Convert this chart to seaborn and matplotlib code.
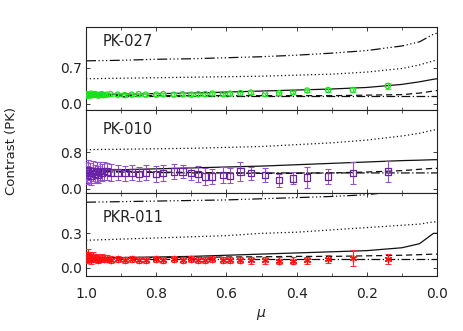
import numpy as np
import pandas as pd
import matplotlib
matplotlib.use("Agg")
import matplotlib.pyplot as plt
import seaborn as sns
from matplotlib.ticker import MultipleLocator, FixedLocator

# ---------------- data ----------------
mu_obs = [1.000, 0.998, 0.995, 0.990, 0.985, 0.980, 0.975, 0.970, 0.965, 0.960,
          0.955, 0.950, 0.940, 0.930, 0.910, 0.890, 0.870, 0.850, 0.830, 0.800,
          0.780, 0.750, 0.725, 0.700, 0.680, 0.660, 0.640, 0.610, 0.590, 0.560,
          0.530, 0.490, 0.450, 0.410, 0.370, 0.310, 0.240, 0.140]

pk027_val = [0.17, 0.19, 0.16, 0.18, 0.20, 0.17, 0.19, 0.18, 0.16, 0.18,
             0.19, 0.17, 0.18, 0.19, 0.18, 0.17, 0.18, 0.19, 0.18, 0.18,
             0.19, 0.18, 0.19, 0.18, 0.19, 0.19, 0.20, 0.19, 0.20, 0.21,
             0.22, 0.19, 0.21, 0.23, 0.26, 0.27, 0.27, 0.35]
pk027_err = [0.04, 0.04, 0.04, 0.04, 0.04, 0.04, 0.04, 0.03, 0.03, 0.03,
             0.03, 0.03, 0.03, 0.03, 0.03, 0.03, 0.03, 0.03, 0.03, 0.03,
             0.03, 0.03, 0.03, 0.03, 0.03, 0.03, 0.03, 0.03, 0.03, 0.03,
             0.03, 0.03, 0.03, 0.03, 0.03, 0.03, 0.03, 0.06]

pk010_val = [0.38, 0.30, 0.42, 0.35, 0.28, 0.40, 0.33, 0.37, 0.31, 0.39,
             0.36, 0.40, 0.38, 0.36, 0.36, 0.34, 0.36, 0.33, 0.36, 0.33,
             0.35, 0.38, 0.38, 0.34, 0.33, 0.27, 0.27, 0.30, 0.29, 0.38,
             0.34, 0.31, 0.19, 0.23, 0.25, 0.27, 0.35, 0.38]
pk010_err = [0.22, 0.20, 0.22, 0.21, 0.20, 0.22, 0.20, 0.21, 0.19, 0.20,
             0.19, 0.20, 0.18, 0.18, 0.17, 0.17, 0.17, 0.16, 0.17, 0.18,
             0.17, 0.16, 0.15, 0.15, 0.17, 0.18, 0.17, 0.18, 0.17, 0.20,
             0.15, 0.15, 0.14, 0.13, 0.24, 0.17, 0.25, 0.23]

pkr011_val = [0.10, 0.08, 0.12, 0.09, 0.07, 0.10, 0.08, 0.09, 0.07, 0.08,
              0.09, 0.08, 0.08, 0.07, 0.08, 0.07, 0.08, 0.07, 0.07, 0.075,
              0.07, 0.075, 0.07, 0.08, 0.07, 0.07, 0.075, 0.07, 0.07, 0.07,
              0.068, 0.068, 0.062, 0.062, 0.068, 0.074, 0.083, 0.077]
pkr011_err = [0.04, 0.04, 0.04, 0.035, 0.035, 0.035, 0.03, 0.03, 0.03, 0.03,
              0.03, 0.03, 0.03, 0.03, 0.025, 0.025, 0.025, 0.025, 0.025, 0.025,
              0.025, 0.025, 0.025, 0.025, 0.025, 0.025, 0.025, 0.025, 0.025, 0.025,
              0.03, 0.03, 0.03, 0.03, 0.03, 0.035, 0.07, 0.045]

mu_mod = [1.0, 0.9, 0.8, 0.7, 0.6, 0.5, 0.4, 0.3, 0.2, 0.1, 0.05, 0.01, 0.0]

# PK-027 models
pk027_solid = [0.18, 0.19, 0.20, 0.21, 0.23, 0.25, 0.27, 0.29, 0.32, 0.38, 0.43, 0.48, 0.49]
pk027_dot   = [0.49, 0.50, 0.51, 0.52, 0.53, 0.54, 0.56, 0.58, 0.62, 0.69, 0.76, 0.84, 0.86]
pk027_d3d   = [0.84, 0.85, 0.87, 0.88, 0.90, 0.92, 0.95, 0.99, 1.04, 1.13, 1.21, 1.36, 1.38]
pk027_dash  = [0.16, 0.16, 0.16, 0.16, 0.16, 0.16, 0.16, 0.16, 0.17, 0.18, 0.21, 0.25, 0.26]
pk027_dd    = [0.15, 0.15, 0.15, 0.15, 0.15, 0.15, 0.15, 0.15, 0.15, 0.15, 0.15, 0.15, 0.15]

# PK-010 models
pk010_solid = [0.40, 0.42, 0.44, 0.46, 0.48, 0.50, 0.53, 0.56, 0.59, 0.62, 0.63, 0.64, 0.64]
pk010_dot   = [0.86, 0.87, 0.88, 0.89, 0.91, 0.93, 0.97, 1.01, 1.07, 1.16, 1.22, 1.29, 1.30]
pk010_dash  = [0.40, 0.38, 0.37, 0.36, 0.35, 0.34, 0.34, 0.35, 0.37, 0.40, 0.43, 0.45, 0.45]
pk010_dd    = [0.38, 0.37, 0.36, 0.35, 0.35, 0.35, 0.35, 0.35, 0.35, 0.35, 0.35, 0.35, 0.35]

# PKR-011 models
pkr011_solid = [0.085, 0.09, 0.095, 0.10, 0.11, 0.12, 0.13, 0.14, 0.15, 0.175, 0.21, 0.30, 0.30]
pkr011_dot   = [0.24, 0.25, 0.26, 0.27, 0.28, 0.30, 0.31, 0.33, 0.35, 0.37, 0.38, 0.40, 0.40]
pkr011_d3d   = [0.57, 0.575, 0.58, 0.585, 0.59, 0.60, 0.61, 0.62, 0.635, 0.67, 0.70, 0.78, 0.80]
pkr011_dash  = [0.085, 0.09, 0.09, 0.09, 0.095, 0.097, 0.10, 0.10, 0.105, 0.11, 0.115, 0.12, 0.12]
pkr011_dd    = [0.075, 0.075, 0.075, 0.075, 0.075, 0.075, 0.075, 0.075, 0.075, 0.075, 0.075, 0.075, 0.075]

names = ["PK-027", "PK-010", "PKR-011"]
yticks = [[0.0, 0.7], [0.0, 0.8], [0.0, 0.3]]
ylims = [(-0.12, 1.5), (-0.09, 1.73), (-0.07, 0.65)]
label_y = [0.83, 0.77, 0.71]

# ---------------- style ----------------
sns.set_theme(style="ticks")
plt.rcParams["font.family"] = ["DejaVu Sans"]
plt.rcParams["xtick.direction"] = "in"
plt.rcParams["ytick.direction"] = "in"
plt.rcParams["xtick.top"] = True
plt.rcParams["ytick.right"] = True

LS = {
    "solid": "-",
    "dot": (0, (1, 2)),
    "d3d": (0, (8, 2, 1, 2, 1, 2, 1, 2)),
    "dash": (0, (5, 3)),
    "dd": (0, (7, 2, 1, 2)),
}

fig, axes = plt.subplots(3, 1, figsize=(4.63, 3.31), dpi=100, sharex=True)
fig.subplots_adjust(left=86 / 463, right=437 / 463, top=1 - 27 / 331,
                    bottom=1 - 276 / 331, hspace=0)

models = [
    {"solid": pk027_solid, "dot": pk027_dot, "d3d": pk027_d3d, "dash": pk027_dash, "dd": pk027_dd},
    {"solid": pk010_solid, "dot": pk010_dot, "dash": pk010_dash, "dd": pk010_dd},
    {"solid": pkr011_solid, "dot": pkr011_dot, "d3d": pkr011_d3d, "dash": pkr011_dash, "dd": pkr011_dd},
]
obs = [(pk027_val, pk027_err), (pk010_val, pk010_err), (pkr011_val, pkr011_err)]
mcol = ["#18e018", "#6a22a8", "#ff1010"]
ecol = ["#3cf03c", "#9552d0", "#ff3030"]
markers = ["o", "s", (6, 2, 0)]
msizes = [14, 20, 20]

for i, ax in enumerate(axes):
    for key, vals in models[i].items():
        sns.lineplot(x=mu_mod, y=vals, ax=ax, color="#111111", lw=0.9,
                     linestyle=LS[key], sort=False, estimator=None)
    vals, errs = obs[i]
    ax.errorbar(mu_obs, vals, yerr=errs, fmt="none", ecolor=ecol[i],
                elinewidth=0.8, capsize=2.0, capthick=0.8, zorder=3)
    if i == 2:
        sns.scatterplot(x=mu_obs, y=vals, ax=ax, marker=markers[i], s=msizes[i],
                        color=mcol[i], edgecolor=mcol[i], linewidth=1.0, zorder=4)
    else:
        sns.scatterplot(x=mu_obs, y=vals, ax=ax, marker=markers[i], s=msizes[i],
                        facecolor="none", edgecolor=mcol[i], linewidth=0.9, zorder=4)
    ax.set_xlim(1.0, 0.0)
    ax.set_ylim(*ylims[i])
    ax.yaxis.set_major_locator(FixedLocator(yticks[i]))
    ax.set_yticklabels([f"{v:.1f}" for v in yticks[i]])
    ax.xaxis.set_major_locator(MultipleLocator(0.2))
    ax.xaxis.set_minor_locator(MultipleLocator(0.1))
    ax.tick_params(axis="both", which="major", length=3, width=0.6,
                   labelsize=10, colors="#222222", pad=3)
    ax.tick_params(axis="x", which="minor", length=2, width=0.5, top=True)
    for s in ax.spines.values():
        s.set_linewidth(0.8)
        s.set_color("#222222")
    ax.text(0.048, label_y[i], names[i], transform=ax.transAxes, fontsize=10.5,
            color="#222222", va="center", ha="left")
    ax.set_ylabel("")

axes[-1].set_xticks([1.0, 0.8, 0.6, 0.4, 0.2, 0.0])
axes[-1].set_xticklabels(["1.0", "0.8", "0.6", "0.4", "0.2", "0.0"])
axes[-1].tick_params(axis="x", pad=8)
axes[-1].set_xlabel(r"$\mu$", fontsize=10, labelpad=4, color="#222222")
fig.text(12 / 463, 1 - 151 / 331, "Contrast (PK)", rotation=90, va="center",
         ha="center", fontsize=9.5, color="#222222")

fig.savefig("out.png", dpi=100)
